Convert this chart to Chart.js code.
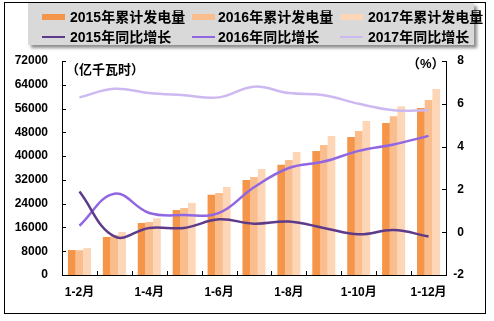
<!DOCTYPE html>
<html><head><meta charset="utf-8">
<script src="https://cdn.jsdelivr.net/npm/chart.js@4"></script>
<style>
html,body{margin:0;padding:0;background:#fff;}
#wrap{position:relative;width:494px;height:321px;overflow:hidden;}
#frame{position:absolute;left:4px;top:2px;width:480px;height:310px;border:1px solid #000;}
#c{position:absolute;left:0;top:0;}
#legend{position:absolute;left:28px;top:3px;width:446px;height:42px;background:#d9d9d9;box-shadow:3px 3px 3px rgba(0,0,0,0.45);}
.txt{position:absolute;font:bold 14px 'Liberation Sans','Noto Sans CJK SC',sans-serif;color:#000;white-space:nowrap;line-height:16px;}
.sw{position:absolute;}
.unit{position:absolute;font:bold 13px 'Liberation Sans','Noto Sans CJK SC',sans-serif;color:#000;white-space:nowrap;line-height:18px;}
</style></head>
<body>
<div id="wrap">
  <div id="frame"></div>
  <canvas id="c" width="494" height="321"></canvas>
  <div id="legend"></div>
  <div class="unit" style="left:66px;top:61px;">（亿千瓦时）</div>
  <div class="unit" style="left:407px;top:55px;">（%）</div>
</div>
<script>
const categories = ['1-2月','1-3月','1-4月','1-5月','1-6月','1-7月','1-8月','1-9月','1-10月','1-11月','1-12月'];
const gen2015 = [8400, 12780, 17500, 21870, 27010, 31960, 37100, 41710, 46420, 51130, 56180];
const gen2016 = [8350, 13450, 17830, 22540, 27580, 32970, 38680, 43730, 48440, 53380, 58870];
const gen2017 = [9050, 14470, 19070, 24220, 29600, 35660, 41380, 46760, 51800, 56740, 62570];
const growth2015 = [1.9, -0.2, 0.2, 0.2, 0.6, 0.4, 0.5, 0.2, -0.1, 0.1, -0.2];
const growth2016 = [0.3, 1.8, 0.9, 0.8, 0.9, 2.1, 3.0, 3.3, 3.8, 4.1, 4.5];
const growth2017 = [6.3, 6.7, 6.5, 6.4, 6.3, 6.8, 6.5, 6.4, 6.0, 5.7, 5.7];
const leftTicks = [0, 8000, 16000, 24000, 32000, 40000, 48000, 56000, 64000, 72000];
const rightTicks = [-2, 0, 2, 4, 6, 8];

const FONT = "'Liberation Sans','Noto Sans CJK SC',sans-serif";

const insideTicks = {
  id: 'insideTicks',
  afterDraw(chart) {
    const ctx = chart.ctx;
    const {x, y, y1} = chart.scales;
    ctx.save();
    ctx.strokeStyle = '#000';
    ctx.lineWidth = 1;
    ctx.beginPath();
    y.ticks.forEach((t, i) => {
      const py = Math.round(y.getPixelForTick(i)) + 0.5;
      ctx.moveTo(y.right, py); ctx.lineTo(y.right + 4, py);
    });
    y1.ticks.forEach((t, i) => {
      const py = Math.round(y1.getPixelForTick(i)) + 0.5;
      ctx.moveTo(y1.left, py); ctx.lineTo(y1.left - 4, py);
    });
    const n = categories.length;
    const w = (x.right - x.left) / n;
    for (let i = 1; i < n; i++) {
      const px = Math.round(x.left + i * w) + 0.5;
      ctx.moveTo(px, x.top); ctx.lineTo(px, x.top - 4);
    }
    ctx.stroke();
    ctx.restore();
  }
};

const chart = new Chart(document.getElementById('c'), {
  data: {
    labels: categories,
    datasets: [
      {type:'bar', label:'2015年累计发电量', data:gen2015, backgroundColor:'#F5954A', yAxisID:'y', order:2},
      {type:'bar', label:'2016年累计发电量', data:gen2016, backgroundColor:'#FABE8E', yAxisID:'y', order:2},
      {type:'bar', label:'2017年累计发电量', data:gen2017, backgroundColor:'#FCD6B6', yAxisID:'y', order:2},
      {type:'line', label:'2015年同比增长', data:growth2015, borderColor:'#5E3A8A', backgroundColor:'#5E3A8A', yAxisID:'y1', order:1, tension:0.4, pointRadius:0, borderWidth:2.5, fill:false},
      {type:'line', label:'2016年同比增长', data:growth2016, borderColor:'#9166E2', backgroundColor:'#9166E2', yAxisID:'y1', order:1, tension:0.4, pointRadius:0, borderWidth:2.5, fill:false},
      {type:'line', label:'2017年同比增长', data:growth2017, borderColor:'#CDB9F1', backgroundColor:'#CDB9F1', yAxisID:'y1', order:1, tension:0.4, pointRadius:0, borderWidth:2.5, fill:false}
    ]
  },
  options: {
    responsive:false,
    animation:false,
    layout:{padding:{top:61,left:0,right:30,bottom:0}},
    datasets:{bar:{categoryPercentage:0.66, barPercentage:1.0}},
    plugins:{legend:{display:false}, tooltip:{enabled:false}},
    scales:{
      x:{
        offset:true,
        grid:{display:false, drawTicks:false},
        border:{display:true,color:'#000',width:1},
        ticks:{autoSkip:false, maxRotation:0, padding:10, color:'#000', font:{family:FONT,size:12,weight:'bold'},
          callback:function(v,i){return i%2===0 ? this.getLabelForValue(v) : '';}},
        afterFit(s){s.height = 46;}
      },
      y:{
        position:'left', min:0, max:72000,
        grid:{display:false, drawTicks:false},
        border:{display:true,color:'#000',width:1},
        afterBuildTicks(s){s.ticks = leftTicks.map(v=>({value:v}));},
        ticks:{padding:14, color:'#000', font:{family:FONT,size:12,weight:'bold'}, callback:v=>String(v)},
        afterFit(s){s.width = 62;}
      },
      y1:{
        position:'right', min:-2, max:8,
        grid:{display:false, drawTicks:false},
        border:{display:true,color:'#000',width:1},
        afterBuildTicks(s){s.ticks = rightTicks.map(v=>({value:v}));},
        ticks:{padding:10, crossAlign:'far', color:'#000', font:{family:FONT,size:12,weight:'bold'}, callback:v=>String(v)},
        afterFit(s){s.width = 18;}
      }
    }
  },
  plugins:[insideTicks]
});

// HTML legend built from the chart datasets
const legend = document.getElementById('legend');
const colSw = [14, 164, 312], colTx = [42, 190, 340], rowY = [14, 34];
chart.data.datasets.forEach((ds, i) => {
  const col = i % 3, row = Math.floor(i / 3);
  const sw = document.createElement('div');
  sw.className = 'sw';
  const isBar = ds.type === 'bar';
  const h = isBar ? 6 : 2;
  sw.style.left = colSw[col] + 'px';
  sw.style.top = (rowY[row] - h/2) + 'px';
  sw.style.width = '23px';
  sw.style.height = h + 'px';
  sw.style.background = isBar ? ds.backgroundColor : ds.borderColor;
  legend.appendChild(sw);
  const t = document.createElement('div');
  t.className = 'txt';
  t.textContent = ds.label;
  t.style.left = colTx[col] + 'px';
  t.style.top = (rowY[row] - 8) + 'px';
  legend.appendChild(t);
});
</script>
</body></html>
